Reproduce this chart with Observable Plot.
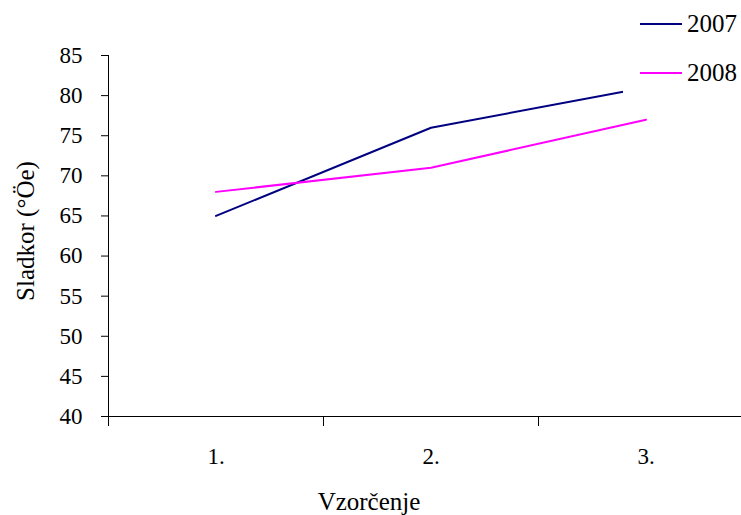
<!DOCTYPE html>
<html>
<head>
<meta charset="utf-8">
<script src="https://cdn.jsdelivr.net/npm/d3@7"></script>
<script src="https://cdn.jsdelivr.net/npm/@observablehq/plot@0.6"></script>
<style>
  html, body { margin: 0; padding: 0; background: white; overflow: hidden; }
  #wrap { position: relative; width: 741px; height: 515px; }
  #legend { position: absolute; left: 623px; top: 0; width: 118px; height: 104px; background: white;
            font-family: "Liberation Serif", "Times New Roman", serif; font-size: 25px; color: #000; }
  .row { position: absolute; left: 17px; display: flex; align-items: center; height: 30px; }
  .sw { width: 42px; height: 2px; margin-right: 5px; }
</style>
</head>
<body>
<div id="wrap"></div>
<script>
const categories = ["1.", "2.", "3."];
const years = ["2007", "2008"];
const values2007 = [65, 76, 81];
const values2008 = [68, 71, 77];
const yTicks = [40, 45, 50, 55, 60, 65, 70, 75, 80, 85];
const colors = ["#000080", "#FF00FF"];
const yTitle = "Sladkor (°Öe)";
const xTitle = "Vzorčenje";

const data = [];
categories.forEach((c, i) => {
  data.push({x: i + 1, cat: c, year: years[0], value: values2007[i]});
});
categories.forEach((c, i) => {
  data.push({x: i + 1, cat: c, year: years[1], value: values2008[i]});
});
const boundaries = categories.map((c, i) => i + 0.5);
const centers = categories.map((c, i) => i + 1);

const font = "'Liberation Serif', 'Times New Roman', serif";

const chart = Plot.plot({
  width: 741,
  height: 515,
  marginLeft: 108,
  marginRight: 0,
  marginTop: 55,
  marginBottom: 99,
  style: {fontFamily: font, fontSize: "23px", color: "#000", background: "white", overflow: "hidden"},
  x: {domain: [0.5, categories.length + 0.5], range: [108, 753]},
  y: {domain: [yTicks[0], yTicks[yTicks.length - 1]]},
  color: {domain: years, range: colors},
  marks: [
    Plot.axisY({ticks: yTicks, tickSize: 7, tickPadding: 19, fontSize: 23, label: null, stroke: "#000"}),
    Plot.axisX({ticks: boundaries, tickSize: 10, tickFormat: () => "", label: null, stroke: "#000"}),
    Plot.axisX({ticks: centers, tickSize: 0, tickPadding: 31, fontSize: 23, tickFormat: d => categories[d - 1], label: null}),
    Plot.ruleX([0.5], {stroke: "#000", strokeWidth: 1}),
    Plot.ruleY([yTicks[0]], {stroke: "#000", strokeWidth: 1}),
    Plot.line(data, {x: "x", y: "value", z: "year", stroke: "year", strokeWidth: 2}),
    Plot.text([yTitle], {frameAnchor: "left", textAnchor: "middle", rotate: -90, dx: -83, dy: -5, fontSize: 25}),
    Plot.text([xTitle], {frameAnchor: "bottom", dx: -56, dy: 93, fontSize: 25})
  ]
});

const wrap = document.getElementById("wrap");
wrap.appendChild(chart);

const legend = document.createElement("div");
legend.id = "legend";
years.forEach((y, i) => {
  const row = document.createElement("div");
  row.className = "row";
  row.style.top = (9 + i * 49) + "px";
  const sw = document.createElement("div");
  sw.className = "sw";
  sw.style.background = colors[i];
  const t = document.createElement("span");
  t.textContent = y;
  row.appendChild(sw);
  row.appendChild(t);
  legend.appendChild(row);
});
wrap.appendChild(legend);
</script>
</body>
</html>
